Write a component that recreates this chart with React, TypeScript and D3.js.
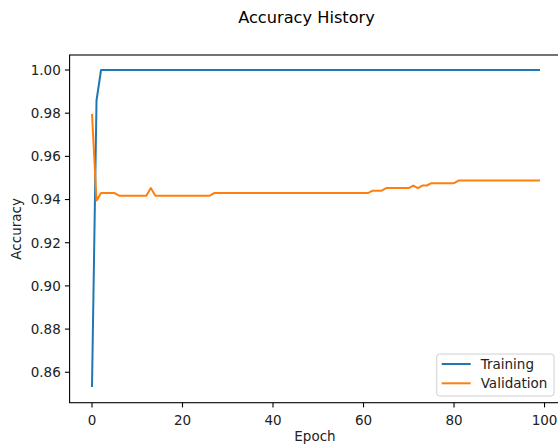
import React from "react";
import * as d3 from "d3";

const epochs: number[] = Array.from({ length: 100 }, (_, i) => i);

const training: number[] = [
  0.8532, 0.986, 1.0, 1.0, 1.0, 1.0, 1.0, 1.0, 1.0, 1.0,
  1.0, 1.0, 1.0, 1.0, 1.0, 1.0, 1.0, 1.0, 1.0, 1.0,
  1.0, 1.0, 1.0, 1.0, 1.0, 1.0, 1.0, 1.0, 1.0, 1.0,
  1.0, 1.0, 1.0, 1.0, 1.0, 1.0, 1.0, 1.0, 1.0, 1.0,
  1.0, 1.0, 1.0, 1.0, 1.0, 1.0, 1.0, 1.0, 1.0, 1.0,
  1.0, 1.0, 1.0, 1.0, 1.0, 1.0, 1.0, 1.0, 1.0, 1.0,
  1.0, 1.0, 1.0, 1.0, 1.0, 1.0, 1.0, 1.0, 1.0, 1.0,
  1.0, 1.0, 1.0, 1.0, 1.0, 1.0, 1.0, 1.0, 1.0, 1.0,
  1.0, 1.0, 1.0, 1.0, 1.0, 1.0, 1.0, 1.0, 1.0, 1.0,
  1.0, 1.0, 1.0, 1.0, 1.0, 1.0, 1.0, 1.0, 1.0, 1.0,
];

const validation: number[] = [
  0.9796, 0.9395, 0.943, 0.943, 0.943, 0.943, 0.9418, 0.9418, 0.9418, 0.9418,
  0.9418, 0.9418, 0.9418, 0.9453, 0.9418, 0.9418, 0.9418, 0.9418, 0.9418, 0.9418,
  0.9418, 0.9418, 0.9418, 0.9418, 0.9418, 0.9418, 0.9418, 0.943, 0.943, 0.943,
  0.943, 0.943, 0.943, 0.943, 0.943, 0.943, 0.943, 0.943, 0.943, 0.943,
  0.943, 0.943, 0.943, 0.943, 0.943, 0.943, 0.943, 0.943, 0.943, 0.943,
  0.943, 0.943, 0.943, 0.943, 0.943, 0.943, 0.943, 0.943, 0.943, 0.943,
  0.943, 0.943, 0.9441, 0.9441, 0.9441, 0.9453, 0.9453, 0.9453, 0.9453, 0.9453,
  0.9453, 0.9465, 0.9453, 0.9465, 0.9465, 0.9476, 0.9476, 0.9476, 0.9476, 0.9476,
  0.9476, 0.9488, 0.9488, 0.9488, 0.9488, 0.9488, 0.9488, 0.9488, 0.9488, 0.9488,
  0.9488, 0.9488, 0.9488, 0.9488, 0.9488, 0.9488, 0.9488, 0.9488, 0.9488, 0.9488,
];

const xTicks: number[] = [0, 20, 40, 60, 80, 100];
const yTicks: number[] = [0.86, 0.88, 0.9, 0.92, 0.94, 0.96, 0.98, 1.0];
const seriesNames: string[] = ["Training", "Validation"];
const seriesColors: string[] = ["#1f77b4", "#ff7f0e"];

const W = 558;
const H = 448;
const FONT = "DejaVu Sans, sans-serif";

export default function App() {
  const left = 69.6;
  const right = 562.4;
  const top = 55;
  const bottom = 402.7;

  const x = d3.scaleLinear().domain([-4.95, 103.95]).range([left, right]);
  const y = d3.scaleLinear().domain([0.8459, 1.00695]).range([bottom, top]);

  const line = d3
    .line<number>()
    .x((_, i) => x(epochs[i]))
    .y((d) => y(d));

  const series = [training, validation];

  return (
    <svg
      width={W}
      height={H}
      style={{ position: "absolute", left: 0, top: 0, background: "#fff" }}
      fontFamily={FONT}
    >
      <rect x={0} y={0} width={W} height={H} fill="#fff" />
      <text x={306.5} y={23} fontSize={16.2} textAnchor="middle" fill="#000">
        Accuracy History
      </text>

      <defs>
        <clipPath id="plot">
          <rect x={left} y={top} width={right - left} height={bottom - top} />
        </clipPath>
      </defs>

      <g clipPath="url(#plot)">
        {series.map((s, k) => (
          <path
            key={k}
            d={line(s) || ""}
            fill="none"
            stroke={seriesColors[k]}
            strokeWidth={2}
            strokeLinejoin="round"
            strokeLinecap="butt"
          />
        ))}
      </g>

      {/* spines */}
      <rect
        x={left}
        y={top}
        width={right - left}
        height={bottom - top}
        fill="none"
        stroke="#000"
        strokeWidth={1.1}
      />

      {/* x ticks */}
      {xTicks.map((t) => (
        <g key={t}>
          <line x1={x(t)} x2={x(t)} y1={bottom} y2={bottom + 4.7} stroke="#000" strokeWidth={1.1} />
          <text x={x(t)} y={425} fontSize={13.5} textAnchor="middle" fill="#222">
            {t}
          </text>
        </g>
      ))}
      <text x={315} y={440.5} fontSize={13.5} textAnchor="middle" fill="#222">
        Epoch
      </text>

      {/* y ticks */}
      {yTicks.map((t) => (
        <g key={t}>
          <line x1={left - 4.7} x2={left} y1={y(t)} y2={y(t)} stroke="#000" strokeWidth={1.1} />
          <text x={60.8} y={y(t) + 4.9} fontSize={13.5} textAnchor="end" fill="#222">
            {t.toFixed(2)}
          </text>
        </g>
      ))}
      <text
        transform={`translate(20.5, ${(top + bottom) / 2}) rotate(-90)`}
        fontSize={13.5}
        textAnchor="middle"
        fill="#222"
      >
        Accuracy
      </text>

      {/* legend */}
      <rect
        x={436.7}
        y={354}
        width={117.3}
        height={42}
        rx={3}
        fill="#fff"
        fillOpacity={0.8}
        stroke="#d0d0d0"
        strokeWidth={1}
      />
      {seriesNames.map((n, k) => (
        <g key={n}>
          <line
            x1={441.7}
            x2={470.7}
            y1={364 + k * 19.3}
            y2={364 + k * 19.3}
            stroke={seriesColors[k]}
            strokeWidth={2}
          />
          <text x={480.7} y={369 + k * 19.3} fontSize={13.5} fill="#222">
            {n}
          </text>
        </g>
      ))}
    </svg>
  );
}
